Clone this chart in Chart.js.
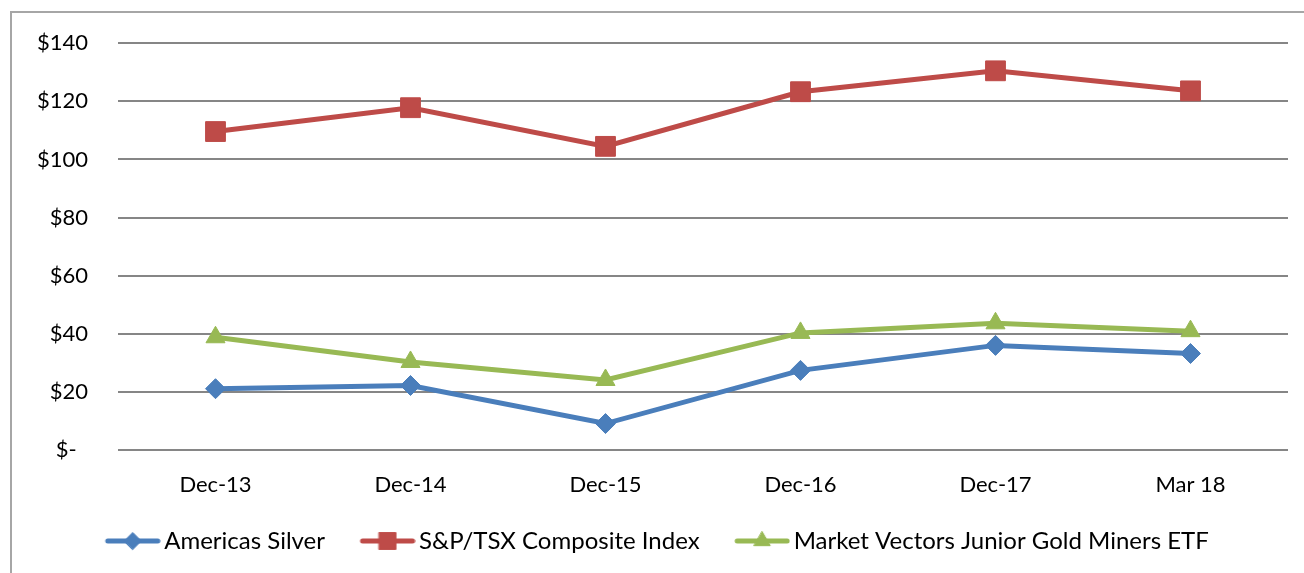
<!DOCTYPE html>
<html>
<head>
<meta charset="utf-8">
<script src="https://cdn.jsdelivr.net/npm/chart.js@4"></script>
<style>
  html, body { margin: 0; padding: 0; background: #fff; }
  #frame {
    position: absolute; left: 10px; top: 11px; width: 1400px; height: 700px;
    border-left: 2px solid #a6a6a6; border-top: 2px solid #a6a6a6;
  }
  #wrap { position: absolute; left: 0; top: 0; width: 1304px; height: 573px; }
</style>
</head>
<body>
<div id="frame"></div>
<div id="wrap"><canvas id="chart"></canvas></div>
<script>
// values
const periods = ['Dec-13', 'Dec-14', 'Dec-15', 'Dec-16', 'Dec-17', 'Mar 18'];
const americasSilver = [21.1, 22.2, 9.1, 27.4, 36.0, 33.2];
const spTsx = [109.6, 117.8, 104.5, 123.3, 130.5, 123.6];
const juniorGold = [38.8, 30.3, 24.1, 40.3, 43.6, 40.9];

const seriesNames = ['Americas Silver', 'S&P/TSX Composite Index', 'Market Vectors Junior Gold Miners ETF'];
const colors = ['#4a7ebb', '#be4b48', '#98b954'];
const markers = ['rectRot', 'rect', 'triangle'];
const markerSizes = [10, 14, 11];

const FONT = 'Lato, "Open Sans", sans-serif';

// legend swatch: short thick line with the marker in the middle,
// drawn in the right part of the image so the gap before the text stays small
function legendSwatch(color, style, r) {
    const c = document.createElement('canvas');
    c.width = 90; c.height = 26;
    const g = c.getContext('2d');
    g.strokeStyle = color;
    g.lineWidth = 5;
    g.lineCap = 'round';
    g.beginPath();
    g.moveTo(37, 13); g.lineTo(87, 13);
    g.stroke();
    g.fillStyle = color;
    g.strokeStyle = color;
    g.lineWidth = 1;
    Chart.helpers.drawPoint(g, { pointStyle: style, radius: r * 0.85, borderWidth: 1 }, 62, 13);
    return c;
}

function makeDataset(i, values) {
    return {
        label: seriesNames[i],
        data: values,
        borderColor: colors[i],
        backgroundColor: colors[i],
        borderWidth: 5,
        pointStyle: markers[i],
        pointRadius: markerSizes[i],
        pointHoverRadius: markerSizes[i],
        pointBorderWidth: 1,
        pointBorderColor: colors[i],
        pointBackgroundColor: colors[i],
        tension: 0
    };
}

new Chart(document.getElementById('chart').getContext('2d'), {
    type: 'line',
    data: {
        labels: periods,
        datasets: [
            makeDataset(0, americasSilver),
            makeDataset(1, spTsx),
            makeDataset(2, juniorGold)
        ]
    },
    options: {
        responsive: true,
        maintainAspectRatio: false,
        animation: false,
        layout: { padding: { top: 38, right: 16, left: 0, bottom: 10 } },
        plugins: {
            tooltip: { enabled: false },
            legend: {
                position: 'bottom',
                labels: {
                    usePointStyle: true,
                    pointStyleWidth: 73,
                    padding: 9,
                    color: '#000',
                    font: { family: FONT, size: 24 },
                    generateLabels: (chart) => chart.data.datasets.map((ds, i) => ({
                        text: ds.label,
                        pointStyle: legendSwatch(colors[i], markers[i], markerSizes[i]),
                        fillStyle: colors[i],
                        strokeStyle: colors[i],
                        lineWidth: 0,
                        hidden: false,
                        datasetIndex: i,
                        fontColor: '#000'
                    }))
                }
            }
        },
        scales: {
            x: {
                offset: true,
                afterFit: (axis) => { axis.height = 70; },
                grid: { display: false, drawTicks: false },
                border: { display: false },
                ticks: {
                    color: '#000',
                    padding: 22,
                    maxRotation: 0,
                    font: { family: FONT, size: 22 }
                }
            },
            y: {
                min: 0,
                max: 140,
                afterFit: (axis) => { axis.width = 118; },
                grid: { color: '#868686', lineWidth: 2, drawTicks: false },
                border: { display: false },
                ticks: {
                    stepSize: 20,
                    padding: 30,
                    color: '#000',
                    font: { family: FONT, size: 22 },
                    callback: (v) => v === 0 ? '$-  ' : '$' + v
                }
            }
        }
    }
});
</script>
</body>
</html>
